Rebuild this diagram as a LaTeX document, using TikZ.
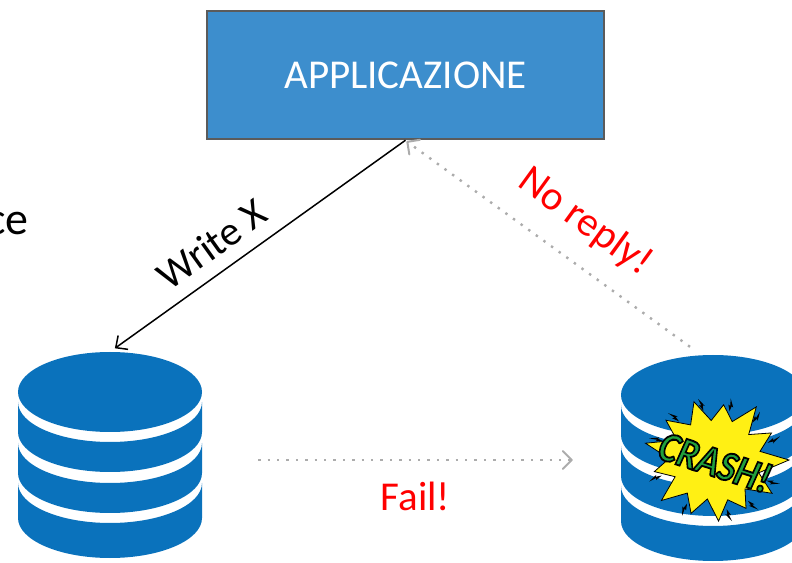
\documentclass[tikz,border=0pt]{standalone}
\usepackage{fontspec}
\setmainfont{Carlito}
\usepackage{tikz}
\usetikzlibrary{arrows.meta,shapes,calc}
\definecolor{appblue}{RGB}{61,142,205}
\definecolor{appborder}{RGB}{91,91,91}
\definecolor{dbblue}{RGB}{10,114,188}
\definecolor{dotgray}{RGB}{172,172,172}
\definecolor{crashyellow}{RGB}{255,240,20}
\definecolor{crashgreen}{RGB}{34,160,60}
\tikzset{
  appbox/.style={draw=appborder, fill=appblue, line width=2.5pt, minimum width=397pt, minimum height=128pt, text=white, font=\fontsize{41}{48}\selectfont},
  dbslot/.style={minimum width=184pt, minimum height=206pt, inner sep=0pt},
  bigtext/.style={font=\fontsize{41}{48}\selectfont},
  grayarrow/.style={color=dotgray, line width=2.4pt, dash pattern=on 2.4pt off 7pt,
    -{Straight Barb[length=9pt,width=18pt,line width=2pt,round]}}
}
\newcommand{\dbicon}{%
  \fill[dbblue] (0,63) ellipse [x radius=92, y radius=40];
  \foreach \t/\b in {53/23, 12/-18, -28/-63}
    \fill[dbblue] (-92,\t) arc[start angle=180, end angle=360, x radius=92, y radius=40]
      -- (92,\b) arc[start angle=0, end angle=-180, x radius=92, y radius=40] -- cycle;
}
\newcommand{\outlinetext}[1]{\special{pdf:literal direct 1.6 w 0 0 0 RG 2 Tr}#1\special{pdf:literal direct 0 Tr}}

\begin{document}
\begin{tikzpicture}[x=1pt,y=1pt]
\path[use as bounding box, clip] (0,0) rectangle (792,562);
\node (app) at (405.5,487) [appbox] {APPLICAZIONE};
\node (cetext) at (29,327) [anchor=base east, inner sep=0pt, font=\fontsize{46}{52}\selectfont] {ce};
\node (dbL) at (110,107) [dbslot] {};
\node (dbR) at (713,104) [dbslot] {};
\begin{scope}[shift={(dbL.center)}]
\dbicon
\end{scope}
\begin{scope}[shift={(dbR.center)}]
\dbicon
\begin{scope}[shift={(2,-2)}, yscale=0.9]
\fill[crashyellow, draw=black, line width=0.8pt] (0:74) -- (12:46) -- (28:64) -- (40:44) -- (55:72) -- (68:46) -- (82:62) -- (95:44) -- (108:68) -- (122:46) -- (138:66) -- (150:44) -- (165:72) -- (178:46) -- (192:62) -- (205:44) -- (220:70) -- (233:46) -- (248:64) -- (260:44) -- (273:68) -- (286:46) -- (300:62) -- (313:44) -- (327:68) -- (342:46) -- cycle;
\foreach \a in {20,48,75,102,130,158,198,240,282,306,336}
  \fill[black, rotate=\a] (56,0) -- (63,3) -- (62,0.8) -- (70,2.5) -- (61,-2.5) -- (62,-0.6) -- cycle;
\end{scope}
\node (crash) at (2,-4) [rotate=-18, yscale=1.15, text=crashgreen, font=\fontsize{37}{37}\bfseries\itshape] {\outlinetext{CRASH!}};
\end{scope}
\draw[color=black, line width=1.5pt, -{Straight Barb[length=9pt,width=17pt]}, shorten >=6pt] (app.south) -- (dbL.north)
  node[pos=0.6, sloped, above=10pt, bigtext] (writelbl) {Write X};
\draw[grayarrow] ([xshift=-23pt,yshift=8pt]dbR.north) -- ([xshift=1pt,yshift=-1pt]app.south);
\path (app.south) -- ([xshift=-23pt,yshift=8pt]dbR.north)
  node[pos=0.55, sloped, above=18pt, bigtext, text=red] (noreplylbl) {No reply!};
\draw[grayarrow] ([shift={(56,-5)}]dbL.east) -- ([shift={(-48,-2)}]dbR.west)
  node[midway, below=17pt, bigtext, text=red] (faillbl) {Fail!};
\end{tikzpicture}
\end{document}
